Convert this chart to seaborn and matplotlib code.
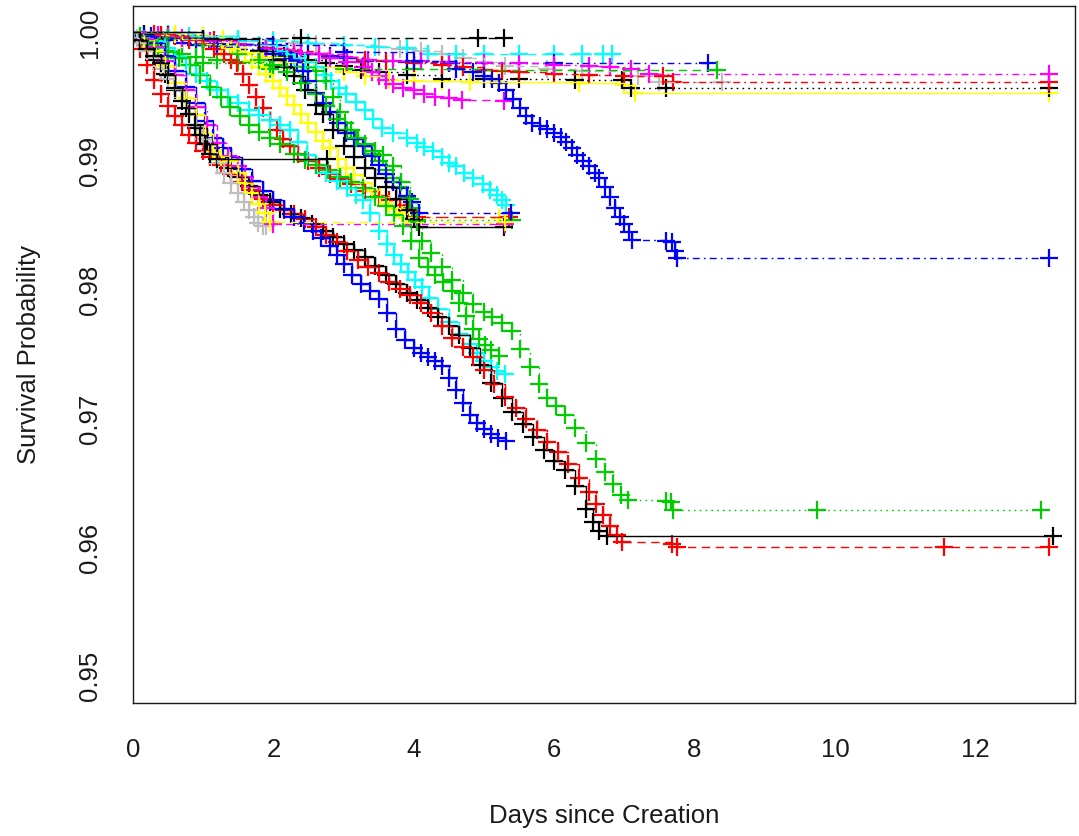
import matplotlib

matplotlib.use("Agg")

import matplotlib.pyplot as plt
import pandas as pd
import seaborn as sns

# Kaplan-Meier curves (days, survival)
black_long_x = [0, 0.1, 0.2, 0.3, 0.45, 0.6, 0.75, 0.9, 1.05, 1.2, 1.35, 1.5, 1.65, 1.8, 1.95, 2.1, 2.25, 2.4, 2.55, 2.7, 2.85, 3.0, 3.15, 3.3, 3.45, 3.6, 3.75, 3.9, 4.05, 4.2, 4.35, 4.5, 4.65, 4.8, 4.95, 5.1, 5.25, 5.4, 5.55, 5.7, 5.85, 6.0, 6.15, 6.3, 6.45, 6.55, 6.64, 6.75, 13.1]
black_long_y = [1.0, 0.9993, 0.9987, 0.9979, 0.9968, 0.9955, 0.9941, 0.9926, 0.9913, 0.9903, 0.9895, 0.9888, 0.9881, 0.9874, 0.9868, 0.9863, 0.9859, 0.9856, 0.9851, 0.9846, 0.9841, 0.9836, 0.9831, 0.9826, 0.9819, 0.9812, 0.9805, 0.9798, 0.9792, 0.9786, 0.9779, 0.9772, 0.9765, 0.9755, 0.9742, 0.9728, 0.9716, 0.9705, 0.9696, 0.9686, 0.9676, 0.9667, 0.9660, 0.9648, 0.9630, 0.9620, 0.9613, 0.9609, 0.9609]

red_long_x = [0, 0.1, 0.2, 0.3, 0.4, 0.5, 0.6, 0.7, 0.8, 0.9, 1.0, 1.1, 1.25, 1.4, 1.55, 1.7, 1.85, 2.0, 2.15, 2.3, 2.45, 2.6, 2.75, 2.9, 3.05, 3.2, 3.35, 3.5, 3.65, 3.8, 3.95, 4.1, 4.25, 4.4, 4.55, 4.7, 4.85, 5.0, 5.15, 5.3, 5.45, 5.6, 5.75, 5.9, 6.05, 6.2, 6.35, 6.5, 6.6, 6.7, 6.8, 6.9, 6.97, 7.68, 7.75, 11.55, 13.05]
red_long_y = [1.0, 0.9987, 0.9975, 0.9963, 0.9952, 0.9943, 0.9935, 0.9928, 0.9920, 0.9914, 0.9908, 0.9903, 0.9897, 0.9890, 0.9884, 0.9878, 0.9871, 0.9866, 0.9862, 0.9859, 0.9855, 0.9849, 0.9843, 0.9837, 0.9830, 0.9823, 0.9818, 0.9813, 0.9806, 0.9801, 0.9796, 0.9790, 0.9782, 0.9772, 0.9763, 0.9756, 0.9748, 0.9738, 0.9727, 0.9717, 0.9708, 0.9700, 0.9691, 0.9682, 0.9674, 0.9665, 0.9654, 0.9643, 0.9634, 0.9625, 0.9617, 0.9610, 0.9604, 0.9603, 0.9600, 0.9600, 0.9600]

green_long_x = [0, 0.5, 1.0, 1.5, 1.8, 2.0, 2.2, 2.4, 2.6, 2.75, 2.9, 3.05, 3.18, 3.3, 3.45, 3.56, 3.7, 3.82, 3.94, 4.04, 4.12, 4.25, 4.4, 4.55, 4.7, 4.85, 5.0, 5.12, 5.25, 5.4, 5.52, 5.65, 5.78, 5.9, 6.02, 6.15, 6.3, 6.45, 6.6, 6.72, 6.84, 6.95, 7.05, 7.6, 7.66, 7.7, 9.74, 12.94]
green_long_y = [1.0, 0.9996, 0.9990, 0.9983, 0.9979, 0.9975, 0.9969, 0.9961, 0.9952, 0.9943, 0.9933, 0.9924, 0.9918, 0.9913, 0.9908, 0.9905, 0.9896, 0.9884, 0.9871, 0.9853, 0.9838, 0.9829, 0.9818, 0.9808, 0.9798, 0.9789, 0.9783, 0.9779, 0.9774, 0.9768, 0.9754, 0.9740, 0.9727, 0.9716, 0.9710, 0.9703, 0.9693, 0.9681, 0.9669, 0.9659, 0.9649, 0.9641, 0.9637, 0.9636, 0.9635, 0.9629, 0.9629, 0.9629]

blue_low_x = [0, 0.15, 0.3, 0.45, 0.6, 0.75, 0.9, 1.02, 1.14, 1.28, 1.4, 1.55, 1.7, 1.85, 2.0, 2.15, 2.3, 2.43, 2.56, 2.68, 2.8, 2.9, 3.0, 3.12, 3.25, 3.38, 3.5, 3.62, 3.75, 3.88, 4.0, 4.1, 4.2, 4.3, 4.4, 4.5, 4.6, 4.7, 4.8, 4.9, 5.0, 5.1, 5.2, 5.32]
blue_low_y = [1.0, 0.9997, 0.9992, 0.9982, 0.9970, 0.9958, 0.9945, 0.9931, 0.9918, 0.9910, 0.9903, 0.9894, 0.9885, 0.9877, 0.9870, 0.9863, 0.9857, 0.9852, 0.9846, 0.9840, 0.9834, 0.9827, 0.9820, 0.9812, 0.9805, 0.9799, 0.9793, 0.9782, 0.9770, 0.9761, 0.9755, 0.9751, 0.9748, 0.9745, 0.9741, 0.9732, 0.9722, 0.9712, 0.9703, 0.9697, 0.9692, 0.9688, 0.9685, 0.9683]

cyan_low_x = [0, 0.15, 0.3, 0.45, 0.6, 0.75, 0.9, 1.05, 1.2, 1.35, 1.5, 1.65, 1.8, 1.95, 2.1, 2.23, 2.35, 2.48, 2.6, 2.75, 2.9, 3.05, 3.17, 3.27, 3.38, 3.51, 3.62, 3.72, 3.82, 3.92, 4.02, 4.12, 4.22, 4.35, 4.5, 4.65, 4.8, 4.9, 5.0, 5.1, 5.18, 5.3]
cyan_low_y = [1.0, 0.9997, 0.9993, 0.9988, 0.9982, 0.9975, 0.9968, 0.9962, 0.9955, 0.9950, 0.9945, 0.9940, 0.9936, 0.9932, 0.9928, 0.9924, 0.9915, 0.9905, 0.9897, 0.9891, 0.9885, 0.9879, 0.9874, 0.9870, 0.9860, 0.9846, 0.9836, 0.9827, 0.9820, 0.9814, 0.9808, 0.9802, 0.9794, 0.9785, 0.9775, 0.9766, 0.9758, 0.9751, 0.9745, 0.9740, 0.9737, 0.9735]

green_low_x = [0, 0.1, 0.2, 0.35, 0.5, 0.65, 0.81, 0.95, 1.1, 1.25, 1.38, 1.52, 1.65, 1.8, 1.95, 2.1, 2.3, 2.45, 2.6, 2.78, 2.95, 3.1, 3.27, 3.45, 3.6, 3.72, 3.84, 3.96, 4.08, 4.2, 4.3, 4.42, 4.55, 4.65, 4.75, 4.85, 4.93, 5.02, 5.1, 5.22]
green_low_y = [1.0, 0.9997, 0.9993, 0.9989, 0.9985, 0.9980, 0.9975, 0.9967, 0.9958, 0.9950, 0.9942, 0.9935, 0.9928, 0.9923, 0.9918, 0.9913, 0.9906, 0.9901, 0.9897, 0.9893, 0.9888, 0.9884, 0.9879, 0.9872, 0.9865, 0.9858, 0.9850, 0.9838, 0.9825, 0.9818, 0.9812, 0.9806, 0.9799, 0.9790, 0.9780, 0.9770, 0.9762, 0.9757, 0.9753, 0.9749]

blue_long_x = [0, 1.0, 2.0, 3.0, 4.0, 4.6, 4.85, 5.0, 5.12, 5.22, 5.32, 5.42, 5.52, 5.6, 5.69, 5.8, 5.9, 6.0, 6.1, 6.17, 6.25, 6.33, 6.41, 6.5, 6.58, 6.64, 6.72, 6.8, 6.87, 6.94, 7.0, 7.06, 7.11, 7.6, 7.68, 7.72, 7.75, 13.05]
blue_long_y = [1.0, 0.9995, 0.9990, 0.9985, 0.9978, 0.9972, 0.9969, 0.9966, 0.9964, 0.9961, 0.9955, 0.9948, 0.9941, 0.9935, 0.9930, 0.9927, 0.9925, 0.9922, 0.9919, 0.9915, 0.9910, 0.9905, 0.9900, 0.9896, 0.9891, 0.9887, 0.9880, 0.9872, 0.9864, 0.9857, 0.9851, 0.9845, 0.9839, 0.9838, 0.9837, 0.9830, 0.9825, 0.9825]

black_top_x = [0, 0.15, 0.4, 2.40, 4.91, 5.29]
black_top_y = [1.0, 0.99985, 0.99957, 0.99957, 0.99957, 0.99957]

cyan_top_x = [0, 0.5, 1.0, 1.5, 2.0, 2.5, 3.0, 3.45, 3.9, 4.2, 4.6, 5.0, 5.5, 6.0, 6.4, 6.7, 6.83]
cyan_top_y = [1.0, 0.99985, 0.9997, 0.9995, 0.9993, 0.99915, 0.9990, 0.9989, 0.9988, 0.99835, 0.99832, 0.9983, 0.9983, 0.9983, 0.99829, 0.99829, 0.99829]

blue_top_x = [0, 0.25, 0.5, 0.7, 0.9, 1.2, 1.5, 1.85, 2.2, 2.5, 2.8, 3.05, 3.3, 3.9, 4.5, 6.0, 8.19]
blue_top_y = [1.0, 0.9997, 0.9994, 0.9992, 0.9990, 0.99885, 0.9987, 0.9986, 0.9985, 0.99835, 0.9982, 0.9980, 0.99775, 0.9977, 0.99765, 0.99763, 0.99763]

green_top_x = [0, 0.1, 0.2, 0.35, 0.5, 0.7, 0.9, 1.2, 1.5, 2.0, 2.5, 3.0, 4.0, 5.0, 8.32]
green_top_y = [1.0, 0.9997, 0.9993, 0.9989, 0.9986, 0.9983, 0.9981, 0.9979, 0.9977, 0.9974, 0.9973, 0.9972, 0.99715, 0.99712, 0.99709]

gray_top_x = [0, 0.5, 1.0, 1.5, 2.0, 2.3, 2.6, 3.0, 3.5, 3.8, 4.1, 4.4, 4.7, 5.0, 5.3, 5.9, 6.4, 7.2, 7.5, 8.39]
gray_top_y = [1.0, 0.9999, 0.9997, 0.9995, 0.9994, 0.9992, 0.9991, 0.9990, 0.9989, 0.99875, 0.9986, 0.9983, 0.9980, 0.9977, 0.9974, 0.9972, 0.9970, 0.9966, 0.99615, 0.99615]

magenta_top_x = [0, 0.35, 0.7, 1.1, 1.5, 1.9, 2.3, 2.65, 3.0, 3.35, 3.7, 4.1, 4.5, 5.0, 5.5, 6.0, 6.5, 6.8, 7.1, 7.35, 13.05]
magenta_top_y = [1.0, 0.9998, 0.9996, 0.9993, 0.9990, 0.9987, 0.9985, 0.9983, 0.9981, 0.9979, 0.9978, 0.99775, 0.9977, 0.99765, 0.9976, 0.9975, 0.9974, 0.9973, 0.99715, 0.99678, 0.99678]

red_top_x = [0, 0.4, 0.8, 1.15, 1.5, 1.9, 2.3, 2.65, 3.0, 3.3, 3.6, 4.0, 4.4, 4.7, 5.0, 5.25, 5.5, 6.0, 6.5, 7.0, 7.55, 7.7, 13.05]
red_top_y = [1.0, 0.9998, 0.9996, 0.9994, 0.9991, 0.9988, 0.9986, 0.9983, 0.9981, 0.9979, 0.9978, 0.9976, 0.9975, 0.9973, 0.9971, 0.9970, 0.9969, 0.9968, 0.9967, 0.99665, 0.9966, 0.99615, 0.99615]

black_dot_x = [0, 0.5, 1.0, 1.4, 1.8, 2.15, 2.5, 2.75, 3.0, 3.25, 3.5, 3.9, 4.4, 5.0, 5.5, 6.3, 6.97, 7.1, 7.6, 13.05]
black_dot_y = [1.0, 0.9998, 0.9994, 0.9990, 0.9986, 0.9982, 0.9979, 0.9976, 0.9974, 0.9971, 0.9969, 0.9967, 0.9964, 0.99637, 0.99635, 0.99632, 0.9963, 0.99569, 0.99569, 0.99569]

yellow_top_x = [0, 0.4, 0.7, 1.0, 1.25, 1.5, 1.85, 2.2, 2.6, 3.0, 3.3, 3.65, 4.0, 4.4, 4.8, 5.2, 6.36, 7.0, 7.15, 13.05]
yellow_top_y = [1.0, 0.9998, 0.9995, 0.9991, 0.9988, 0.9985, 0.9981, 0.9977, 0.9973, 0.9969, 0.9966, 0.9963, 0.99625, 0.9962, 0.99617, 0.99615, 0.9961, 0.9959, 0.9953, 0.9953]

magenta_mid_x = [0, 0.5, 1.0, 1.5, 2.0, 2.4, 2.8, 3.05, 3.27, 3.4, 3.5, 3.6, 3.7, 3.85, 4.0, 4.15, 4.3, 4.5, 4.69, 5.29]
magenta_mid_y = [1.0, 0.9997, 0.9994, 0.9991, 0.9987, 0.9984, 0.9980, 0.9977, 0.9973, 0.9969, 0.9966, 0.9963, 0.9960, 0.9957, 0.9955, 0.9952, 0.9950, 0.9949, 0.99475, 0.99468]

gray_short_x = [0, 0.05, 0.1, 0.2, 0.3, 0.4, 0.5, 0.6, 0.7, 0.8, 0.9, 1.0, 1.1, 1.2, 1.3, 1.4, 1.5, 1.58, 1.65, 1.72, 1.78, 1.85, 1.9]
gray_short_y = [1.0, 0.9996, 0.9992, 0.9986, 0.9980, 0.9972, 0.9964, 0.9956, 0.9947, 0.9937, 0.9927, 0.9917, 0.9907, 0.9899, 0.9891, 0.9883, 0.9875, 0.9868, 0.9862, 0.9857, 0.9852, 0.9850, 0.9850]

black_short_x = [0, 0.1, 0.2, 0.3, 0.4, 0.5, 0.6, 0.7, 0.8, 0.88, 0.95, 1.02, 1.09, 1.2, 2.76]
black_short_y = [1.0, 0.9994, 0.9987, 0.9982, 0.9976, 0.9967, 0.9957, 0.9947, 0.9937, 0.9928, 0.9920, 0.9913, 0.9906, 0.9902, 0.9902]

yellow_short_x = [0, 0.15, 0.3, 0.45, 0.6, 0.75, 0.9, 1.02, 1.14, 1.26, 1.38, 1.5, 1.6, 1.7, 1.8, 1.88, 1.95, 5.3]
yellow_short_y = [1.0, 0.9994, 0.9986, 0.9974, 0.9961, 0.9949, 0.9936, 0.9921, 0.9907, 0.9903, 0.9900, 0.9891, 0.9883, 0.9875, 0.9867, 0.9860, 0.98528, 0.98528]

magenta_short_x = [0, 0.15, 0.3, 0.45, 0.6, 0.75, 0.9, 1.05, 1.2, 1.35, 1.5, 1.6, 1.7, 1.8, 1.9, 2.0, 5.3]
magenta_short_y = [1.0, 0.9995, 0.9989, 0.9978, 0.9967, 0.9955, 0.9942, 0.9928, 0.9914, 0.9904, 0.9896, 0.9888, 0.9880, 0.9872, 0.9864, 0.98512, 0.98512]

red_mid_x = [0, 0.3, 0.6, 0.8, 1.0, 1.15, 1.3, 1.4, 1.48, 1.56, 1.65, 1.75, 1.85, 1.95, 2.05, 2.14, 2.23, 2.35, 2.5, 2.65, 2.8, 2.95, 3.1, 3.3, 3.5, 3.65, 3.8, 3.92, 4.05, 5.35]
red_mid_y = [1.0, 0.9999, 0.9997, 0.9994, 0.9991, 0.9987, 0.9983, 0.9979, 0.9976, 0.9968, 0.9959, 0.9950, 0.9941, 0.9932, 0.9924, 0.9917, 0.9912, 0.9906, 0.9900, 0.9895, 0.9890, 0.9886, 0.9882, 0.9877, 0.9873, 0.9870, 0.9866, 0.9862, 0.98566, 0.98566]

blue_mid_x = [0, 0.5, 1.2, 1.8, 2.0, 2.15, 2.25, 2.33, 2.42, 2.5, 2.6, 2.7, 2.8, 2.92, 3.04, 3.15, 3.27, 3.4, 3.5, 3.6, 3.7, 3.8, 3.9, 3.98, 4.08, 5.38]
blue_mid_y = [1.0, 0.9996, 0.9991, 0.9986, 0.9983, 0.9980, 0.9979, 0.9977, 0.9970, 0.9962, 0.9953, 0.9945, 0.9938, 0.9930, 0.9922, 0.9917, 0.9912, 0.9904, 0.9897, 0.9890, 0.9884, 0.9879, 0.9873, 0.9868, 0.98597, 0.98597]

green_mid_x = [0, 0.2, 0.5, 1.0, 1.95, 2.6, 2.75, 2.85, 2.95, 3.02, 3.1, 3.2, 3.3, 3.4, 3.5, 3.6, 3.7, 3.8, 3.9, 3.98, 4.05, 5.4]
green_mid_y = [1.0, 0.9990, 0.9981, 0.9976, 0.9972, 0.9970, 0.9962, 0.9950, 0.9938, 0.9930, 0.9924, 0.9918, 0.9912, 0.9906, 0.9900, 0.9893, 0.9887, 0.9880, 0.9872, 0.9864, 0.98543, 0.98543]

yellow_mid_x = [0, 0.6, 1.0, 1.28, 1.4, 1.5, 1.6, 1.7, 1.8, 1.9, 2.0, 2.1, 2.2, 2.3, 2.4, 2.5, 2.6, 2.7, 2.8, 2.92, 3.04, 3.15, 3.28, 3.4, 3.52, 3.64, 3.75, 3.83, 3.9, 5.22]
yellow_mid_y = [1.0, 0.9999, 0.9997, 0.9995, 0.9990, 0.9987, 0.9983, 0.9978, 0.9973, 0.9968, 0.9962, 0.9957, 0.9951, 0.9944, 0.9937, 0.9930, 0.9923, 0.9916, 0.9910, 0.9902, 0.9895, 0.9889, 0.9883, 0.9877, 0.9872, 0.9867, 0.9863, 0.9860, 0.9856, 0.9856]

black_mid_x = [0, 1.0, 1.8, 2.0, 2.15, 2.3, 2.45, 2.6, 2.7, 2.85, 3.0, 3.15, 3.3, 3.45, 3.6, 3.75, 3.9, 4.0, 4.08, 5.29]
black_mid_y = [1.0, 0.9995, 0.9986, 0.9979, 0.9973, 0.9966, 0.9955, 0.9944, 0.9937, 0.9924, 0.9912, 0.9903, 0.9895, 0.9887, 0.9880, 0.9871, 0.9862, 0.9855, 0.98489, 0.98489]

cyan_mid_x = [0, 0.8, 1.5, 1.8, 2.05, 2.2, 2.3, 2.45, 2.6, 2.72, 2.82, 2.93, 3.04, 3.17, 3.3, 3.42, 3.55, 3.7, 3.9, 4.05, 4.15, 4.27, 4.4, 4.5, 4.6, 4.72, 4.85, 4.98, 5.08, 5.18, 5.25, 5.31]
cyan_mid_y = [1.0, 0.9997, 0.9993, 0.9990, 0.9986, 0.9983, 0.9980, 0.9977, 0.9973, 0.9967, 0.9962, 0.9957, 0.9952, 0.9946, 0.9940, 0.9933, 0.9926, 0.9922, 0.9918, 0.9914, 0.9911, 0.9908, 0.9903, 0.9899, 0.9896, 0.9891, 0.9887, 0.9882, 0.9878, 0.9874, 0.9870, 0.9866]

x_ticks = [0, 2, 4, 6, 8, 10, 12]
y_ticks = [0.95, 0.96, 0.97, 0.98, 0.99, 1.00]
y_tick_labels = ["0.95", "0.96", "0.97", "0.98", "0.99", "1.00"]

# R default palette + line types
BLACK, RED, GREEN, BLUE = "#000000", "#FF0000", "#00CD00", "#0000FF"
CYAN, MAGENTA, YELLOW, GRAY = "#00FFFF", "#FF00FF", "#FFFF00", "#BEBEBE"
SOLID, DASHED, DOTTED = "-", (0, (6, 4)), (0, (1.2, 3))
DOTDASH, LONGDASH = (0, (1.2, 3, 5, 3)), (0, (9, 4))

curves = [
    ("gray_top", gray_top_x, gray_top_y, GRAY, DASHED),
    ("cyan_top", cyan_top_x, cyan_top_y, CYAN, DASHED),
    ("blue_top", blue_top_x, blue_top_y, BLUE, DOTDASH),
    ("green_top", green_top_x, green_top_y, GREEN, DASHED),
    ("black_top", black_top_x, black_top_y, BLACK, DASHED),
    ("yellow_top", yellow_top_x, yellow_top_y, YELLOW, SOLID),
    ("black_dot", black_dot_x, black_dot_y, BLACK, DOTTED),
    ("red_top", red_top_x, red_top_y, RED, DOTDASH),
    ("magenta_top", magenta_top_x, magenta_top_y, MAGENTA, DOTDASH),
    ("magenta_mid", magenta_mid_x, magenta_mid_y, MAGENTA, DASHED),
    ("blue_long", blue_long_x, blue_long_y, BLUE, DOTDASH),
    ("cyan_mid", cyan_mid_x, cyan_mid_y, CYAN, SOLID),
    ("red_mid", red_mid_x, red_mid_y, RED, LONGDASH),
    ("green_mid", green_mid_x, green_mid_y, GREEN, DOTTED),
    ("yellow_mid", yellow_mid_x, yellow_mid_y, YELLOW, DOTTED),
    ("blue_mid", blue_mid_x, blue_mid_y, BLUE, DOTDASH),
    ("black_mid", black_mid_x, black_mid_y, BLACK, SOLID),
    ("cyan_low", cyan_low_x, cyan_low_y, CYAN, SOLID),
    ("green_low", green_low_x, green_low_y, GREEN, SOLID),
    ("green_long", green_long_x, green_long_y, GREEN, DOTTED),
    ("black_long", black_long_x, black_long_y, BLACK, SOLID),
    ("red_long", red_long_x, red_long_y, RED, DASHED),
    ("blue_low", blue_low_x, blue_low_y, BLUE, SOLID),
    ("gray_short", gray_short_x, gray_short_y, GRAY, SOLID),
    ("magenta_short", magenta_short_x, magenta_short_y, MAGENTA, DOTDASH),
    ("yellow_short", yellow_short_x, yellow_short_y, YELLOW, DASHED),
    ("black_short", black_short_x, black_short_y, BLACK, SOLID),
]

sns.set_style("white")
plt.rcParams["font.family"] = ["Liberation Sans", "DejaVu Sans"]

fig = plt.figure(figsize=(10.79, 8.36), dpi=100)
ax = fig.add_axes([133 / 1079, 1 - 703 / 836, 942 / 1079, 697.3 / 836])

for name, xs, ys, color, ls in curves:
    df = pd.DataFrame({"days": xs, "surv": ys})
    sns.lineplot(data=df, x="days", y="surv", ax=ax, color=color, linestyle=ls,
                 linewidth=1.0, drawstyle="steps-post", estimator=None, sort=False,
                 errorbar=None)
    sns.scatterplot(data=df.iloc[1:], x="days", y="surv", ax=ax, color=color,
                    marker="+", s=185, linewidth=1.6)

ax.set_xlim(0, 13.42)
ax.set_ylim(0.94792, 1.00208)
ax.set_xticks(x_ticks)
ax.set_xticklabels([str(t) for t in x_ticks])
ax.set_yticks(y_ticks)
ax.set_yticklabels(y_tick_labels, rotation=90, va="center")
ax.tick_params(axis="both", direction="out", length=10.5, width=1.0, colors="#1a1a1a",
               labelsize=18.5, labelcolor="#1a1a1a")
ax.tick_params(axis="x", pad=15)
ax.tick_params(axis="y", pad=12)
for spine in ax.spines.values():
    spine.set_color("#1a1a1a")
    spine.set_linewidth(1.0)

ax.set_xlabel("Days since Creation", fontsize=18.5, color="#1a1a1a")
ax.set_ylabel("Survival Probability", fontsize=18.5, color="#1a1a1a")
ax.xaxis.set_label_coords(0.5, -0.145)
ax.yaxis.set_label_coords(-0.098, 0.5)

fig.savefig("out.png", dpi=100)
